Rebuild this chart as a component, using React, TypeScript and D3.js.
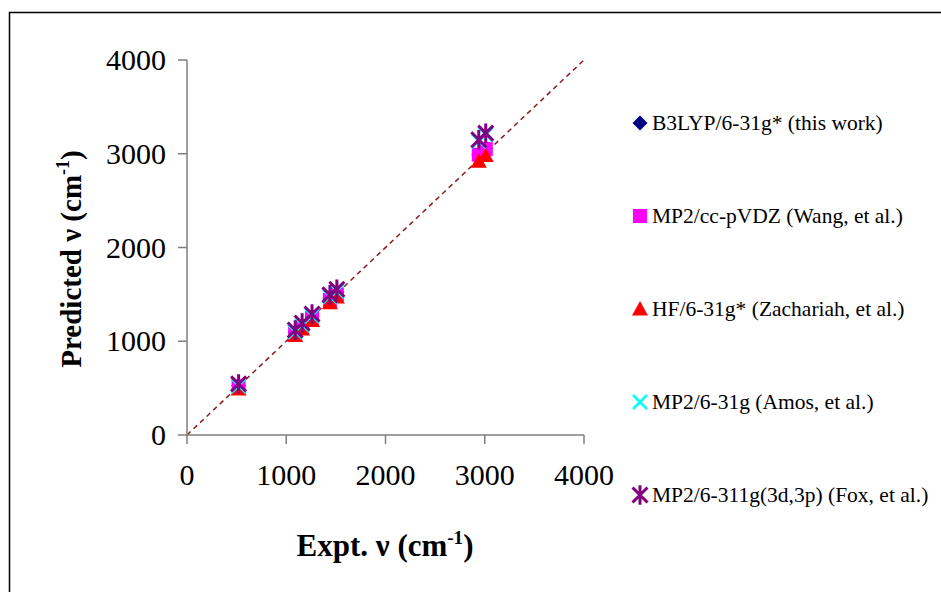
import React from "react";
import * as d3 from "d3";

const expt = [520, 1090, 1160, 1260, 1440, 1510, 2940, 3010];
const b3lyp = [525, 1100, 1165, 1265, 1460, 1525, 2990, 3060];
const mp2cc = [520, 1090, 1150, 1250, 1440, 1500, 2990, 3050];
const hf = [490, 1060, 1130, 1220, 1410, 1470, 2920, 2980];
const mp2631 = [525, 1100, 1175, 1270, 1475, 1535, 3135, 3205];
const fox = [545, 1120, 1195, 1290, 1495, 1555, 3150, 3220];
const ticks = [0, 1000, 2000, 3000, 4000];
const seriesNames = [
  "B3LYP/6-31g* (this work)",
  "MP2/cc-pVDZ (Wang, et al.)",
  "HF/6-31g* (Zachariah, et al.)",
  "MP2/6-31g (Amos, et al.)",
  "MP2/6-311g(3d,3p) (Fox, et al.)",
];

const FONT = "'Liberation Serif', 'Times New Roman', serif";

type Kind = "diamond" | "square" | "triangle" | "x" | "star";

function Marker({ kind, x, y }: { kind: Kind; x: number; y: number }) {
  if (kind === "diamond") {
    const r = 7.5;
    return <path d={`M${x},${y - r}L${x + r},${y}L${x},${y + r}L${x - r},${y}Z`} fill="#000080" />;
  }
  if (kind === "square") {
    const r = 7;
    return <rect x={x - r} y={y - r} width={2 * r} height={2 * r} fill="#FF00FF" />;
  }
  if (kind === "triangle") {
    const r = 8;
    return <path d={`M${x},${y - r}L${x + r},${y + r * 0.8}L${x - r},${y + r * 0.8}Z`} fill="#FF0000" />;
  }
  if (kind === "x") {
    const r = 7;
    return (
      <path d={`M${x - r},${y - r}L${x + r},${y + r}M${x + r},${y - r}L${x - r},${y + r}`} stroke="#00FFFF" strokeWidth={2.5} />
    );
  }
  const r = 7.5;
  return (
    <path
      d={`M${x - r},${y - r}L${x + r},${y + r}M${x + r},${y - r}L${x - r},${y + r}M${x},${y - r * 1.3}L${x},${y + r * 1.3}`}
      stroke="#800080"
      strokeWidth={3}
    />
  );
}

export default function App() {
  const xs = d3.scaleLinear().domain([0, 4000]).range([187, 584]);
  const ys = d3.scaleLinear().domain([0, 4000]).range([435, 60]);
  const series: { vals: number[]; kind: Kind }[] = [
    { vals: b3lyp, kind: "diamond" },
    { vals: mp2cc, kind: "square" },
    { vals: hf, kind: "triangle" },
    { vals: mp2631, kind: "x" },
    { vals: fox, kind: "star" },
  ];
  const legendY = [123, 216, 309, 402, 495];
  const axisColor = "#7f7f7f";
  return (
    <svg width={941} height={592} style={{ position: "absolute", left: 0, top: 0, background: "#fff" }} fontFamily={FONT}>
      <rect x={0} y={0} width={941} height={592} fill="#fff" />
      <rect x={9.5} y={12.5} width={1000} height={1000} fill="none" stroke="#000" strokeWidth={1.5} />
      <line x1={xs(0)} y1={ys(0)} x2={xs(4000)} y2={ys(4000)} stroke="#8B1A1A" strokeWidth={1.5} strokeDasharray="5,4" />
      <line x1={xs(0)} y1={ys(0)} x2={xs(4000)} y2={ys(0)} stroke={axisColor} strokeWidth={1.5} />
      <line x1={xs(0)} y1={ys(0)} x2={xs(0)} y2={ys(4000)} stroke={axisColor} strokeWidth={1.5} />
      {ticks.map((t) => (
        <g key={"y" + t}>
          <line x1={xs(0) - 9} x2={xs(0)} y1={ys(t)} y2={ys(t)} stroke={axisColor} strokeWidth={1.5} />
          <text x={166} y={ys(t) + 10} textAnchor="end" fontSize={30}>{t}</text>
        </g>
      ))}
      {ticks.map((t) => (
        <g key={"x" + t}>
          <line x1={xs(t)} x2={xs(t)} y1={ys(0)} y2={ys(0) + 9} stroke={axisColor} strokeWidth={1.5} />
          <text x={xs(t)} y={485} textAnchor="middle" fontSize={30}>{t}</text>
        </g>
      ))}
      {series.map((s, si) => (
        <g key={si}>
          {s.vals.map((v, i) => (
            <Marker key={i} kind={s.kind} x={xs(expt[i])} y={ys(v)} />
          ))}
        </g>
      ))}
      <text x={385} y={556} textAnchor="middle" fontSize={31} fontWeight="bold">
        Expt. ν (cm<tspan dy={-12} fontSize={19}>-1</tspan><tspan dy={12}>)</tspan>
      </text>
      <text transform="translate(81,259) rotate(-90)" textAnchor="middle" fontSize={29} fontWeight="bold">
        Predicted ν (cm<tspan dy={-12} fontSize={18}>-1</tspan><tspan dy={12}>)</tspan>
      </text>
      {series.map((s, i) => (
        <g key={"l" + i}>
          <Marker kind={s.kind} x={640} y={legendY[i]} />
          <text x={652} y={legendY[i] + 7} fontSize={21.5}>{seriesNames[i]}</text>
        </g>
      ))}
    </svg>
  );
}
